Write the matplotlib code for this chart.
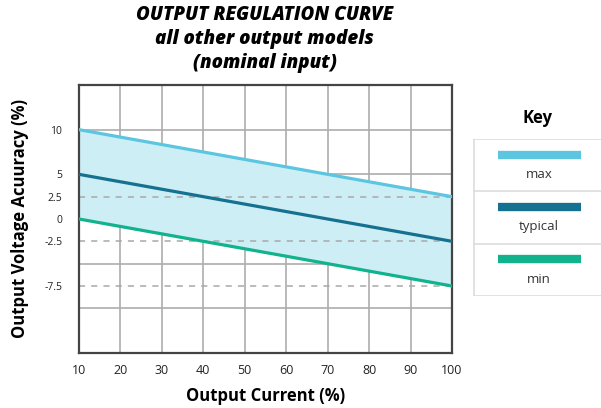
import matplotlib.pyplot as plt
import numpy as np

# output current (%) and accuracy (%)
current = [10, 100]
v_max = [10, 2.5]
v_typ = [5, -2.5]
v_min = [0, -7.5]

x_ticks = [10, 20, 30, 40, 50, 60, 70, 80, 90, 100]
y_ticks = [10, 5, 2.5, 0, -2.5, -7.5]
y_solid = [10, 5, 0, -5, -10]
y_dashed = [2.5, -2.5, -7.5]

key_names = ['max', 'typical', 'min']
c_max = '#5cc6e0'
c_typ = '#15718f'
c_min = '#10b38c'
key_colors = [c_max, c_typ, c_min]

plt.rcParams['font.family'] = ['Open Sans', 'DejaVu Sans']

fig = plt.figure(figsize=(6.01, 4.08), dpi=100)
ax = fig.add_axes([79/601, 1-353/408, (452-79)/601, (353-85)/408])

ax.fill_between(current, v_min, v_max, color='#cdeef5', zorder=1)
for y in y_solid:
    ax.axhline(y, color='#adadad', lw=1.2, zorder=0.5)
for x in x_ticks[1:-1]:
    ax.axvline(x, color='#adadad', lw=1.2, zorder=0.5)
for y in y_dashed:
    ax.axhline(y, color='#a8a8a8', lw=1.1, ls=(0, (4, 4)), zorder=1.5)

ax.plot(current, v_max, color=c_max, lw=2.3, zorder=3)
ax.plot(current, v_typ, color=c_typ, lw=2.3, zorder=3)
ax.plot(current, v_min, color=c_min, lw=2.3, zorder=3)

ax.set_xlim(10, 100)
ax.set_ylim(-15, 15)
ax.set_xticks(x_ticks)
ax.set_yticks(y_ticks)
ax.set_yticklabels([f'{v:g}' for v in y_ticks])
ax.tick_params(length=0, labelsize=9, colors='#222222', pad=8)
ax.tick_params(axis='y', labelsize=7.5, pad=12)
for s in ax.spines.values():
    s.set_color('#444444')
    s.set_linewidth(1.6)

ax.set_xlabel('Output Current (%)', fontsize=12, fontweight='bold', labelpad=7)
ax.set_ylabel('Output Voltage Acuuracy (%)', fontsize=12, fontweight='bold', labelpad=11)

fig.text(0.44, 0.987, 'OUTPUT REGULATION CURVE\nall other output models\n(nominal input)',
         ha='center', va='top', fontsize=13.5, fontweight='heavy', style='italic',
         linespacing=1.24)

# key box
kx = fig.add_axes([473/601, 1-296/408, 140/601, (296-139)/408])
kx.set_xlim(0, 1)
kx.set_ylim(0, 3)
kx.axis('off')
for i, (name, col) in enumerate(zip(key_names, key_colors)):
    row = 2 - i
    kx.plot([25/140, 108/140], [row + 0.7, row + 0.7], color=col, lw=6, solid_capstyle='butt')
    kx.text(66/140, row + 0.32, name, ha='center', va='center', fontsize=9.5, color='#333333')
for y in [0, 1, 2, 3]:
    kx.axhline(y, color='#dddddd', lw=1.2)
kx.axvline(0.004, color='#dddddd', lw=1.2)
fig.text(537/601, 1-118/408, 'Key', ha='center', va='center', fontsize=12, fontweight='bold')

fig.savefig('out.png', dpi=100)
